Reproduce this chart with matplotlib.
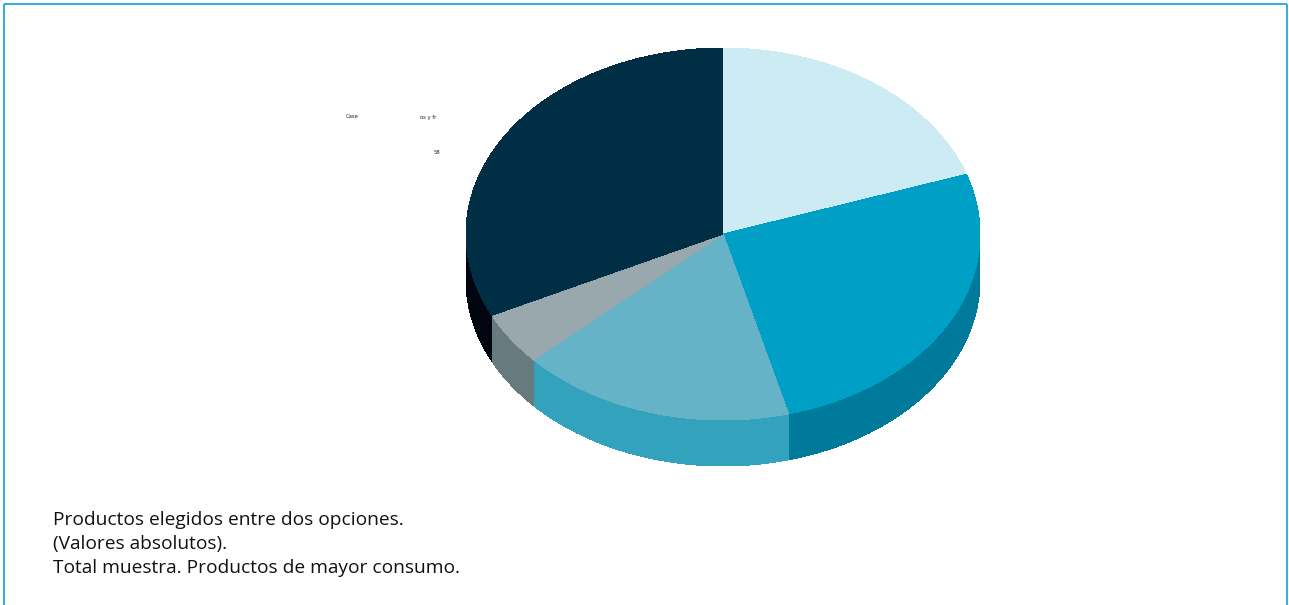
import matplotlib
matplotlib.use("Agg")
import matplotlib.pyplot as plt
from matplotlib.patches import Polygon
import numpy as np

# Datos del gráfico de tarta (valores en %, de arriba en sentido horario)
categorias = ["Producto A", "Producto B", "Producto C", "Producto D", "Producto E"]
valores = [19.8, 26.1, 17.3, 4.6, 32.2]
colores_tapa = ["#CCEBF3", "#00A0C6", "#66B3C8", "#99A8AD", "#002E45"]
colores_lado = ["#A3C8D2", "#007A9A", "#33A3BD", "#677A7D", "#00050F"]

# Restos de etiquetas que aparecen en el gráfico
etiquetas = [("Case", 352, 117), ("os y fr", 428, 117), ("58", 437, 153)]

notas = ["Productos elegidos entre dos opciones.",
         "(Valores absolutos).",
         "Total muestra. Productos de mayor consumo."]

# Geometría de la tarta 3D (en píxeles)
cx, cy = 723, 234
rx, ry = 257, 186
grosor = 46

W, H = 1289, 605
fig = plt.figure(figsize=(W / 100, H / 100), dpi=100)
ax = fig.add_axes([0, 0, 1, 1])
ax.set_xlim(0, W)
ax.set_ylim(H, 0)
ax.axis("off")


def arco(a1, a2, dy=0, n=300):
    t = np.radians(np.linspace(a1, a2, n))
    return np.column_stack([cx + rx * np.cos(t), cy - ry * np.sin(t) + dy])


# ángulos de inicio y fin de cada porción
total = sum(valores)
angulos = []
a = 90.0
for v in valores:
    b = a - v / total * 360
    angulos.append((a, b))
    a = b

# primero los laterales (solo la mitad delantera se ve)
for (a1, a2), col in zip(angulos, colores_lado):
    hi = min(a1, 0)
    lo = max(a2, -180)
    if hi > lo:
        pts = np.vstack([arco(hi, lo), arco(lo, hi, dy=grosor)])
        ax.add_patch(Polygon(pts, closed=True, facecolor=col,
                             edgecolor="none", antialiased=False))

# después las tapas
for (a1, a2), col in zip(angulos, colores_tapa):
    pts = np.vstack([[cx, cy], arco(a1, a2)])
    ax.add_patch(Polygon(pts, closed=True, facecolor=col,
                         edgecolor="none", antialiased=False))

for txt, x, y in etiquetas:
    ax.text(x, y, txt, fontsize=3.8, ha="center", va="center",
            color="#222222", family="DejaVu Sans")

for i, linea in enumerate(notas):
    ax.text(53, 520 + i * 24, linea, fontsize=13.8, ha="left", va="center",
            color="#111111", family="Open Sans")

# marco exterior
borde = "#1FAAD3"
ax.plot([4, 4], [H + 5, 4], color=borde, lw=1.3, solid_capstyle="butt")
ax.plot([4, 1287], [4, 4], color=borde, lw=1.3, solid_capstyle="butt")
ax.plot([1287, 1287], [4, H + 5], color=borde, lw=1.3, solid_capstyle="butt")

fig.savefig("out.png", dpi=100)
